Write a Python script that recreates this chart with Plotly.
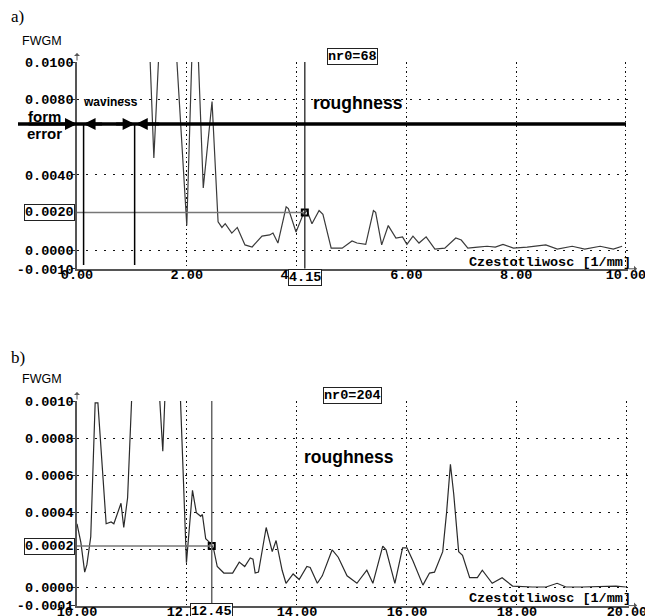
import plotly.graph_objects as go

W, H = 645, 616

# ---------------- data ----------------
# panel a) spectrum (frequency 1/mm, FWGM)
a_freq = [0.00, 0.60, 1.20, 1.32, 1.40, 1.50, 1.65, 1.80, 2.00, 2.10, 2.15, 2.20, 2.30, 2.46,
          2.55, 2.57, 2.64, 2.70, 2.82, 2.92, 3.06, 3.19, 3.37, 3.51, 3.57, 3.66, 3.81, 3.85,
          3.99, 4.12, 4.19, 4.28, 4.41, 4.48, 4.63, 4.83, 5.01, 5.10, 5.26, 5.40, 5.44, 5.55,
          5.67, 5.81, 5.93, 6.01, 6.12, 6.23, 6.36, 6.52, 6.70, 6.90, 7.00, 7.12, 7.30, 7.47,
          7.62, 7.76, 7.95, 8.20, 8.54, 8.75, 9.02, 9.25, 9.53, 9.77, 9.93]
a_fwgm = [0.030, 0.030, 0.030, 0.0110, 0.0049, 0.0110, 0.030, 0.0110, 0.0013, 0.0110, 0.020,
          0.0110, 0.0033, 0.0079, 0.0020, 0.0015, 0.0012, 0.0014, 0.0009, 0.0012, 0.00027,
          0.00016, 0.00074, 0.0008, 0.0009, 0.00037, 0.0023, 0.0022, 0.00096, 0.0019, 0.0021,
          0.0014, 0.0021, 0.0019, 0.0001, 0.0001, 0.00048, 0.00037, 0.0003, 0.0021, 0.0020,
          0.00027, 0.0013, 0.00064, 0.0007, 0.0003, 0.00074, 0.00037, 0.0007, 0.00005, 0.0001,
          0.00064, 0.00053, 0.0001, 0.00015, 0.0002, 0.00015, 0.0003, 0.0001, 0.00015, 0.00027,
          0.00005, 0.0002, 0.00005, 0.0002, 0.00005, 0.0002]

# panel b) spectrum
b_freq = [10.00, 10.07, 10.14, 10.18, 10.25, 10.33, 10.38, 10.47, 10.53, 10.62, 10.67, 10.80,
          10.85, 10.92, 10.99, 11.20, 11.50, 11.56, 11.60, 11.75, 11.88, 11.99, 12.10, 12.17,
          12.25, 12.28, 12.34, 12.41, 12.48, 12.55, 12.67, 12.83, 12.95, 13.05, 13.15, 13.20,
          13.24, 13.30, 13.44, 13.55, 13.62, 13.73, 13.80, 13.93, 14.04, 14.18, 14.24, 14.37,
          14.46, 14.64, 14.75, 14.91, 15.09, 15.27, 15.38, 15.56, 15.62, 15.78, 15.92, 16.00,
          16.11, 16.29, 16.41, 16.50, 16.65, 16.72, 16.79, 16.85, 16.94, 17.01, 17.14, 17.28,
          17.37, 17.55, 17.73, 17.92, 18.28, 18.53, 18.73, 18.89, 19.18, 19.62, 19.80, 19.98]
b_fwgm = [0.00034, 0.00024, 0.00008, 0.00012, 0.00027, 0.00099, 0.00099, 0.00059, 0.00034,
          0.00035, 0.00034, 0.00045, 0.00032, 0.00048, 0.00102, 0.0025, 0.00103, 0.00073,
          0.00103, 0.0025, 0.00102, 0.00013, 0.00052, 0.00040, 0.00038, 0.00039, 0.00026,
          0.00024, 0.00021, 0.00011, 0.000075, 0.000075, 0.000134, 0.00011, 0.000156, 0.00015,
          0.000075, 0.00008, 0.00032, 0.00019, 0.00025, 0.00009, 0.00002, 0.00007, 0.00004,
          0.00011, 0.000105, 0.00002, 0.00006, 0.0002, 0.00016, 0.00006, 0.00002, 0.00009,
          0.00002, 0.00022, 0.0002, 0.00002, 0.00021, 0.00021, 0.00014, 0.00001, 0.000075,
          0.00008, 0.00019, 0.00040, 0.00066, 0.0005, 0.00019, 0.00017, 0.00005, 0.00005,
          0.00009, 0.00002, 0.00005, 0.000005, 0.0, 0.0, 0.00002, 0.0, 0.0, 0.000005,
          0.000005, 0.0]

a_xticks = [0, 2, 4, 6, 8, 10]
a_xtext = ["0.00", "2.00", "4.00", "6.00", "8.00", "10.00"]
a_yticks = [-0.001, 0.0, 0.004, 0.008, 0.010]
a_ytext = ["-0.0010", "0.0000", "0.0040", "0.0080", "0.0100"]
b_xticks = [10, 12, 14, 16, 18, 20]
b_xtext = ["10.00", "12.00", "14.00", "16.00", "18.00", "20.00"]
b_yticks = [-0.0001, 0.0, 0.0002, 0.0004, 0.0006, 0.0008, 0.0010]
b_ytext = ["-0.0001", "0.0000", "", "0.0004", "0.0006", "0.0008", "0.0010"]

a_cursor = (4.15, 0.0020)
b_cursor = (12.45, 0.00022)
a_cursor_lbl = ("4.15", "0.0020")
b_cursor_lbl = ("12.45", "0.0002")
a_nr0 = "nr0=68"
b_nr0 = "nr0=204"
a_band_edges = [0.12, 1.05]
a_band_level = 0.0067
a_xrange = [0, 10.03]
a_yrange = [-0.001, 0.010]
b_xrange = [10, 20.03]
b_yrange = [-0.0001, 0.0010]
xlabel = "Czestotliwosc [1/mm]"

# ---------------- layout helpers ----------------
def px(x):
    return x / W

def py(y):
    return 1 - y / H

a_xdom = [px(77), px(627.6)]
a_ydom = [py(268.8), py(62)]
b_xdom = [px(77), px(628.6)]
b_ydom = [py(605.6), py(401)]

def a_ypaper(v):
    return a_ydom[0] + (v - a_yrange[0]) / (a_yrange[1] - a_yrange[0]) * (a_ydom[1] - a_ydom[0])

MONO = "Liberation Mono, Courier New, monospace"
SANS = "Liberation Sans, Arial, sans-serif"
SERIF = "Liberation Serif, Times New Roman, serif"
tickfont = dict(family=MONO, size=13.5, color="black", weight="bold")

fig = go.Figure()
fig.add_trace(go.Scatter(x=a_freq, y=a_fwgm, mode="lines", xaxis="x", yaxis="y",
                         line=dict(color="#3a3a3a", width=1.2), hoverinfo="skip"))
fig.add_trace(go.Scatter(x=b_freq, y=b_fwgm, mode="lines", xaxis="x2", yaxis="y2",
                         line=dict(color="#2a2a2a", width=1.2), hoverinfo="skip"))
fig.add_trace(go.Scatter(x=[a_cursor[0]], y=[a_cursor[1]], mode="markers", xaxis="x", yaxis="y",
                         marker=dict(symbol="square-open", size=6, color="black",
                                     line=dict(width=2, color="black")), cliponaxis=False))
fig.add_trace(go.Scatter(x=[b_cursor[0]], y=[b_cursor[1]], mode="markers", xaxis="x2", yaxis="y2",
                         marker=dict(symbol="square-open", size=6, color="black",
                                     line=dict(width=2, color="black")), cliponaxis=False))

def xaxis(dom, rng, tv, tt, anchor):
    return dict(domain=dom, range=rng, tickvals=tv, ticktext=tt, anchor=anchor,
                showgrid=True, gridcolor="#111", gridwidth=1, griddash="1.5px,3px",
                showline=True, linecolor="#555", linewidth=1.5, zeroline=False,
                ticks="", tickfont=tickfont, fixedrange=True, automargin=False,
                ticklabeloverflow="allow", ticklabelstandoff=-8)

def yaxis(dom, rng, tv, tt, anchor):
    return dict(domain=dom, range=rng, tickvals=tv, ticktext=tt, anchor=anchor,
                showgrid=True, gridcolor="#111", gridwidth=1, griddash="2px,7px",
                showline=True, linecolor="#555", linewidth=1.5, zeroline=False,
                ticks="outside", ticklen=4, tickcolor="#333", tickwidth=1,
                tickfont=tickfont, fixedrange=True, automargin=False,
                ticklabeloverflow="allow", ticklabelstandoff=-5)

shapes = []
# cursor lines a
shapes.append(dict(type="line", xref="x", yref="y", x0=a_xrange[0], x1=a_cursor[0],
                   y0=a_cursor[1], y1=a_cursor[1], line=dict(color="#777", width=1.5)))
shapes.append(dict(type="line", xref="x", yref="y", x0=a_cursor[0], x1=a_cursor[0],
                   y0=a_yrange[0], y1=a_yrange[1], line=dict(color="#222", width=1.3)))
# cursor lines b
shapes.append(dict(type="line", xref="x2", yref="y2", x0=b_xrange[0], x1=b_cursor[0],
                   y0=b_cursor[1], y1=b_cursor[1], line=dict(color="#777", width=1.5)))
shapes.append(dict(type="line", xref="x2", yref="y2", x0=b_cursor[0], x1=b_cursor[0],
                   y0=b_yrange[0], y1=b_yrange[1], line=dict(color="#666", width=1.5)))
# waviness band edges
for e in a_band_edges:
    shapes.append(dict(type="line", xref="x", yref="y", x0=e, x1=e,
                       y0=-0.0008, y1=a_band_level, line=dict(color="black", width=1.5)))
# thick band line
shapes.append(dict(type="line", xref="paper", yref="paper", x0=px(18), x1=px(626),
                   y0=a_ypaper(a_band_level), y1=a_ypaper(a_band_level),
                   line=dict(color="black", width=3.5)))

ann = []
def text(x, y, s, size, family=SANS, xanchor="left", bold=False, **kw):
    ann.append(dict(xref="paper", yref="paper", x=px(x), y=py(y), text=("<b>%s</b>" % s) if bold else s,
                    showarrow=False, xanchor=xanchor, yanchor="middle",
                    font=dict(family=family, size=size, color="black"), **kw))

text(9, 16, "a)", 17, SERIF)
text(20, 41, "FWGM", 12.5)
text(9, 357, "b)", 17, SERIF)
text(20, 379, "FWGM", 12.5)
text(358, 103, "roughness", 17.5, xanchor="center", bold=True)
text(349, 457, "roughness", 17.5, xanchor="center", bold=True)
text(110, 102, "waviness", 12, xanchor="center", bold=True)
text(44, 116, "form", 15, xanchor="center", bold=True)
text(44, 133, "error", 15, xanchor="center", bold=True)
text(633, 262, xlabel, 13.5, MONO, xanchor="right", bold=True)
text(633, 598, xlabel, 13.5, MONO, xanchor="right", bold=True)

def boxed(xref, yref, x, y, s, xanchor, yanchor="middle"):
    ann.append(dict(xref=xref, yref=yref, x=x, y=y, text="<b>%s</b>" % s, showarrow=False,
                    xanchor=xanchor, yanchor=yanchor, bgcolor="white", bordercolor="#222",
                    borderwidth=1, borderpad=0, font=tickfont))

boxed("paper", "paper", px(353), py(56), a_nr0, "center")
boxed("paper", "paper", px(353), py(395), b_nr0, "center")
boxed("paper", "y", px(75), a_cursor[1], a_cursor_lbl[1], "right")
boxed("paper", "y2", px(75), b_cursor[1], b_cursor_lbl[1], "right")
boxed("x", "paper", a_cursor[0], py(277), a_cursor_lbl[0], "center")
boxed("x2", "paper", b_cursor[0], py(611), b_cursor_lbl[0], "center")

def arrow(xref, yref, x, y, ax, ay, width=3, head=2, size=0.8, color="black"):
    ann.append(dict(xref=xref, yref=yref, x=x, y=y, ax=ax, ay=ay, axref="pixel", ayref="pixel",
                    text="", showarrow=True, arrowhead=head, arrowsize=size, arrowwidth=width,
                    arrowcolor=color, standoff=0, startstandoff=0))

# band arrows
arrow("x", "y", a_xrange[0], a_band_level, -50, 0)
arrow("x", "y", a_band_edges[0], a_band_level, 20, 0)
arrow("x", "y", a_band_edges[1], a_band_level, -20, 0)
arrow("x", "y", a_band_edges[1] + 0.02, a_band_level, 25, 0)
# axis arrows
arrow("x", "paper", a_xrange[0], py(53), 0, 9, width=1, head=1, size=1, color="#555")
arrow("x2", "paper", b_xrange[0], py(392), 0, 9, width=1, head=1, size=1, color="#555")
arrow("paper", "y", px(637), a_yrange[0], -10, 0, width=1, head=1, size=1, color="#555")
arrow("paper", "y2", px(637), b_yrange[0], -10, 0, width=1, head=1, size=1, color="#555")

fig.update_layout(
    template="none",
    width=W, height=H, autosize=False,
    margin=dict(l=0, r=0, t=0, b=0, autoexpand=False),
    paper_bgcolor="white", plot_bgcolor="white",
    showlegend=False,
    xaxis=xaxis(a_xdom, a_xrange, a_xticks, a_xtext, "y"),
    yaxis=yaxis(a_ydom, a_yrange, a_yticks, a_ytext, "x"),
    xaxis2=xaxis(b_xdom, b_xrange, b_xticks, b_xtext, "y2"),
    yaxis2=yaxis(b_ydom, b_yrange, b_yticks, b_ytext, "x2"),
    shapes=shapes, annotations=ann,
)

fig.write_html("out.html", config={"displayModeBar": False},
               post_script="document.body.style.margin='0px';document.body.style.overflow='hidden';")
